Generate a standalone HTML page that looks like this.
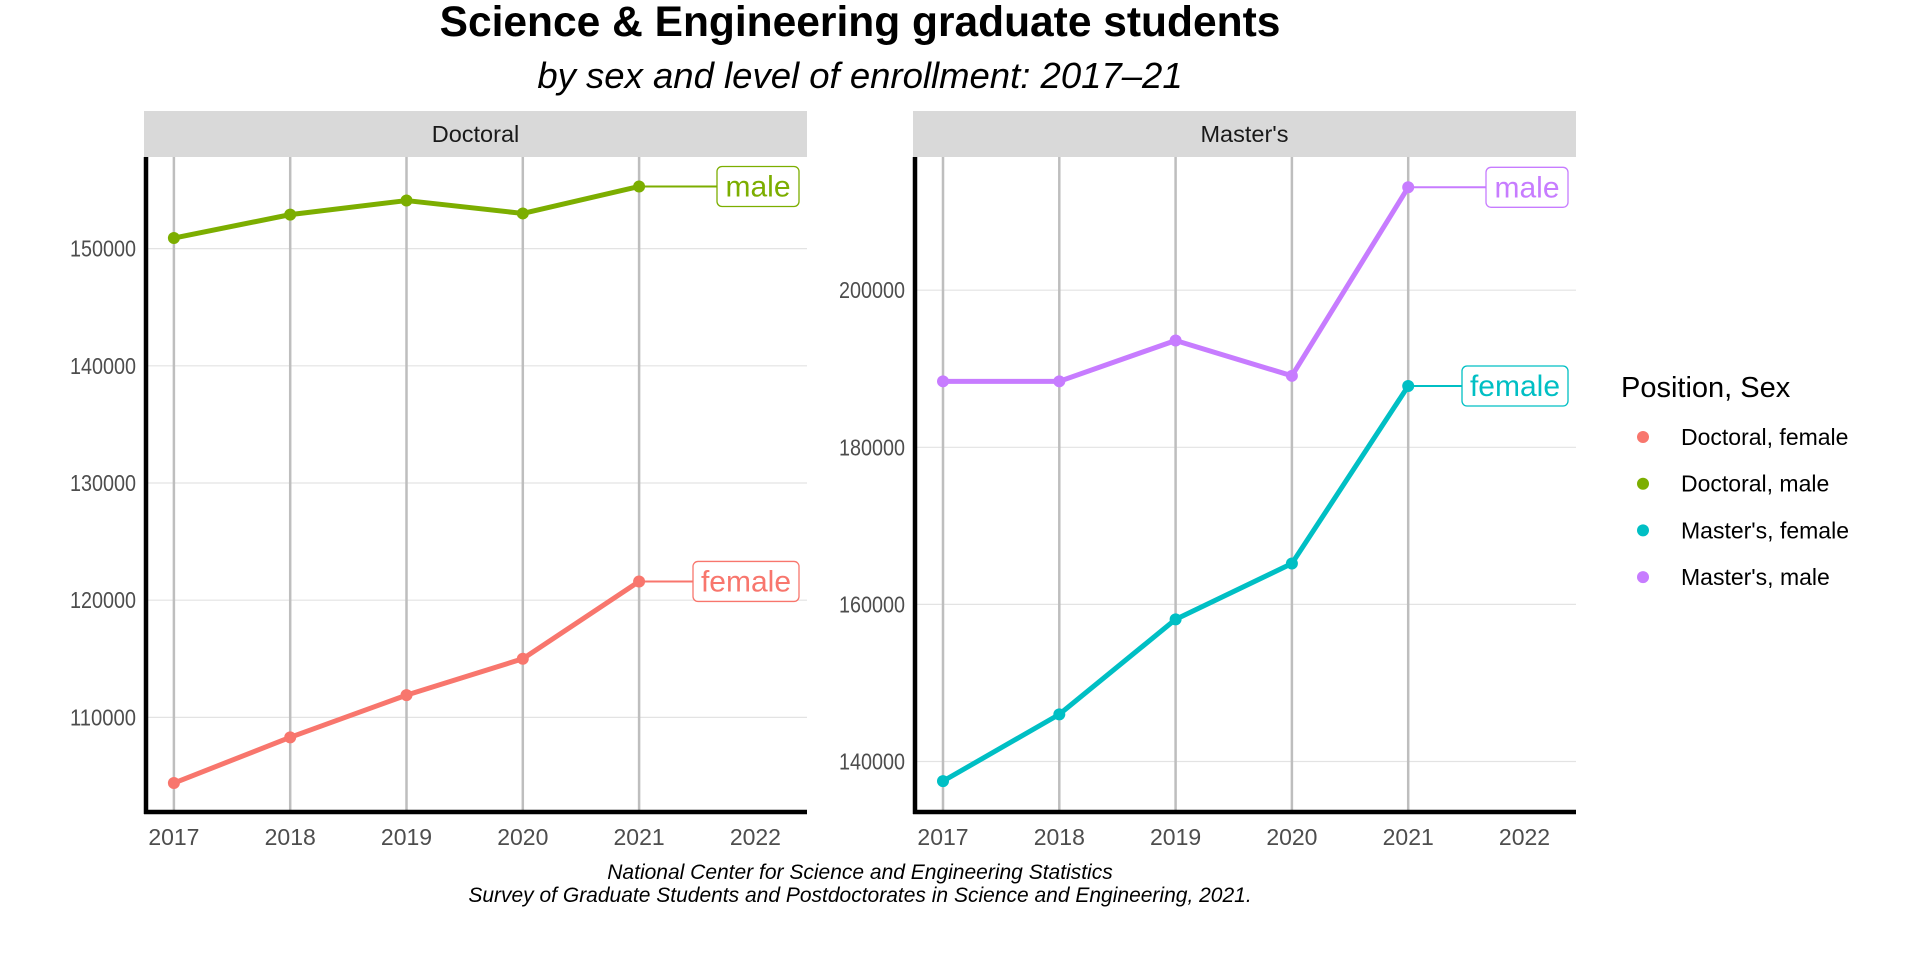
<!DOCTYPE html>
<html><head><meta charset="utf-8"><style>
html,body{margin:0;padding:0;background:#fff;width:1920px;height:960px;overflow:hidden}
svg{font-family:"Liberation Sans",sans-serif}
</style></head><body>
<svg id="c" width="1920" height="960" viewBox="0 0 1920 960" xmlns="http://www.w3.org/2000/svg">
<text x="860" y="36" text-anchor="middle" font-size="42.5" font-weight="bold">Science &amp; Engineering graduate students</text>
<text x="860" y="88" text-anchor="middle" font-size="36.5" font-style="italic">by sex and level of enrollment: 2017–21</text>
<text x="860" y="879" text-anchor="middle" font-size="21" font-style="italic">National Center for Science and Engineering Statistics</text>
<text x="860" y="902" text-anchor="middle" font-size="21" font-style="italic">Survey of Graduate Students and Postdoctorates in Science and Engineering, 2021.</text>
<g id="legend">
<text x="1621" y="397" font-size="29">Position, Sex</text>
</g>
</svg>
<script>
const years = [2017, 2018, 2019, 2020, 2021];
const xTicks = [2017, 2018, 2019, 2020, 2021, 2022];
const docMale = [150900, 152900, 154100, 153000, 155300];
const docFemale = [104400, 108300, 111900, 115000, 121600];
const mastMale = [188400, 188400, 193600, 189100, 213100];
const mastFemale = [137500, 146000, 158100, 165200, 187800];
const docYTicks = [110000, 120000, 130000, 140000, 150000];
const mastYTicks = [140000, 160000, 180000, 200000];
const legendLabels = ["Doctoral, female", "Doctoral, male", "Master's, female", "Master's, male"];
const colors = ["#F8766D", "#7CAE00", "#00BFC4", "#C77CFF"];

const NS = "http://www.w3.org/2000/svg";
const svg = document.getElementById('c');
function mk(tag, attrs, parent) {
  const e = document.createElementNS(NS, tag);
  for (const k in attrs) e.setAttribute(k, attrs[k]);
  (parent || svg).appendChild(e);
  return e;
}
function panel(opt) {
  const g = mk('g', {});
  
  
  const x = v => opt.x0 + (v - 2017) * 116.3;
  const y = v => opt.yRef + (opt.vRef - v) * opt.pxPer;
  const strip = mk('rect', {x: opt.left, y: 111, width: opt.right - opt.left, height: 46, fill: '#d9d9d9'}, g);
  
  
  const st = mk('text', {x: (opt.left + opt.right) / 2, y: 142, 'text-anchor': 'middle', 'font-size': 23.5, fill: '#1a1a1a'}, g);
  st.textContent = opt.title;
  
  
  opt.yTicks.forEach(v => {
    const gl = mk('line', {x1: opt.left, x2: opt.right, y1: y(v), y2: y(v), stroke: '#e3e3e3', 'stroke-width': 1.2}, g);
    
    
    const t = mk('text', {x: opt.left - 8, y: y(v) + 8, 'text-anchor': 'end', 'font-size': 23, fill: '#4d4d4d', textLength: 66, lengthAdjust: 'spacingAndGlyphs'}, g);
    t.textContent = v;
    
    
  });
  years.forEach(v => {
    const gl = mk('line', {x1: x(v), x2: x(v), y1: 157, y2: 812, stroke: '#bebebe', 'stroke-width': 2.5}, g);
    
    
  });
  xTicks.forEach(v => {
    const t = mk('text', {x: x(v), y: 845, 'text-anchor': 'middle', 'font-size': 23, fill: '#4d4d4d'}, g);
    t.textContent = v;
    
    
  });
  opt.series.forEach(s => {
    const pts = s.vals.map((v, i) => x(years[i]) + ',' + y(v)).join(' ');
    const pl = mk('polyline', {points: pts, fill: 'none', stroke: s.color, 'stroke-width': 5, 'stroke-linejoin': 'round'}, g);
    
    
    s.vals.forEach((v, i) => {
      const c = mk('circle', {cx: x(years[i]), cy: y(v), r: 6, fill: s.color}, g);
      
      
    });
    const last = s.vals[s.vals.length - 1];
    const ly = y(last);
    const w = s.sex === 'male' ? 82 : 106;
    const bx = opt.right - 8 - w;
    const ll = mk('line', {x1: x(2021), x2: bx, y1: ly, y2: ly, stroke: s.color, 'stroke-width': 2}, g);
    
    
    const r = mk('rect', {x: bx, y: ly - 20, width: w, height: 40, rx: 5, fill: '#fff', stroke: s.color, 'stroke-width': 1.3}, g);
    
    
    const t = mk('text', {x: bx + w / 2, y: ly + 10, 'text-anchor': 'middle', 'font-size': 30, fill: s.color}, g);
    t.textContent = s.sex;
    
    
  });
  const ya = mk('line', {x1: opt.left + 2, x2: opt.left + 2, y1: 157, y2: 814, stroke: '#000', 'stroke-width': 4.5}, g);
  
  
  const xa = mk('line', {x1: opt.left, x2: opt.right, y1: 812, y2: 812, stroke: '#000', 'stroke-width': 4.5}, g);
  
  
}
panel({name: 'doctoral', title: 'Doctoral', left: 144, right: 807, x0: 173.9, yRef: 248.6, vRef: 150000, pxPer: 117.2 / 10000,
  yTicks: docYTicks, series: [{vals: docMale, color: colors[1], sex: 'male'}, {vals: docFemale, color: colors[0], sex: 'female'}]});
panel({name: 'masters', title: "Master's", left: 913, right: 1576, x0: 943, yRef: 290.2, vRef: 200000, pxPer: 157.1 / 20000,
  yTicks: mastYTicks, series: [{vals: mastMale, color: colors[3], sex: 'male'}, {vals: mastFemale, color: colors[2], sex: 'female'}]});
const lg = document.getElementById('legend');
legendLabels.forEach((lab, i) => {
  const cy = 437 + i * 46.7;
  const c = mk('circle', {cx: 1643, cy: cy, r: 6, fill: colors[i]}, lg);
  
  
  const t = mk('text', {x: 1681, y: cy + 8, 'font-size': 23}, lg);
  t.textContent = lab;
  
  
});
</script>
</body></html>
